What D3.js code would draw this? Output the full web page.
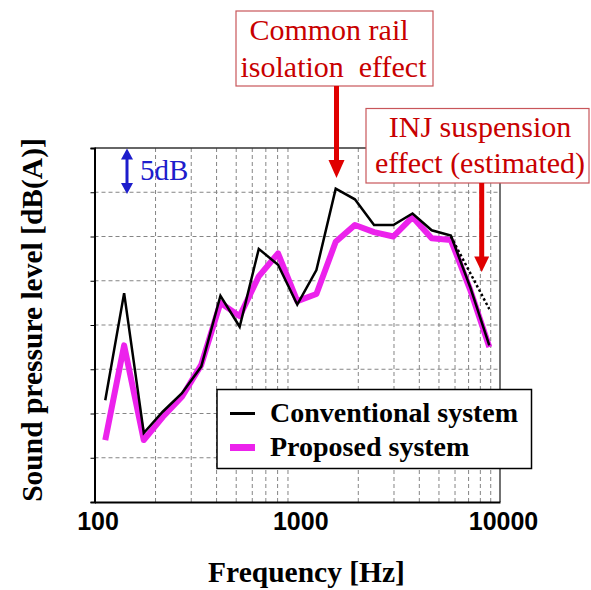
<!DOCTYPE html>
<html>
<head>
<meta charset="utf-8">
<script src="https://cdn.jsdelivr.net/npm/d3@7"></script>
<style>
  html, body { margin: 0; padding: 0; background: #fff; }
  svg { display: block; }
  text { white-space: pre; }
</style>
</head>
<body>
<svg id="chart" width="591" height="590"></svg>
<script>
// ---- Data ----
const frequencies = [113, 140, 175, 217, 270, 336, 418, 520, 646, 804, 1000, 1243, 1548, 1924, 2392, 2978, 3702, 4603, 5724, 7123, 8857];
const conventional = [11.5, 23.6, 7.8, 10.2, 12.3, 15.3, 23.3, 19.8, 28.6, 26.8, 22.3, 26.2, 35.4, 34.2, 31.3, 31.3, 32.6, 30.7, 30.1, 24.3, 17.7];
const proposed     = [7.0, 17.7, 7.0, 9.6, 11.9, 15.5, 22.5, 21.0, 25.5, 28.1, 22.7, 23.5, 29.4, 31.3, 30.5, 30.0, 32.2, 29.8, 29.6, 24.0, 17.5];
const estimatedFreq = [5724, 8857];
const estimatedLevel = [30.0, 21.8];
const xTickLabels = [100, 1000, 10000];
const xGridValues = [200, 300, 400, 500, 600, 700, 800, 900, 2000, 3000, 4000, 5000, 6000, 7000, 8000, 9000];
const yGridValues = [5, 10, 15, 20, 25, 30, 35];
const seriesNames = ["Conventional system", "Proposed system"];
const annotation1 = ["Common rail", "isolation  effect"];
const annotation2 = ["INJ suspension", "effect (estimated)"];
const scaleLabel = "5dB";
const xTitle = "Frequency [Hz]";
const yTitle = "Sound pressure level [dB(A)]";

// ---- Layout ----
const L = 94.5, R = 500, T = 148, B = 502;
const svg = d3.select("#chart");
const x = d3.scaleLog().domain([100, 10000]).range([L, R]);
const y = d3.scaleLinear().domain([0, 40]).range([B, T]);

const serif = "'Liberation Serif', 'Times New Roman', serif";
const sans = "'Liberation Sans', Arial, sans-serif";
const magenta = "#ec22ec";

// grid
const grid = svg.append("g");
grid.selectAll("line.v").data(xGridValues).join("line")
  .attr("x1", d => x(d)).attr("x2", d => x(d))
  .attr("y1", T).attr("y2", B)
  .attr("stroke", "#858585").attr("stroke-width", 1).attr("stroke-dasharray", "4,3");
grid.selectAll("line.h").data(yGridValues).join("line")
  .attr("x1", L).attr("x2", R)
  .attr("y1", d => y(d)).attr("y2", d => y(d))
  .attr("stroke", "#858585").attr("stroke-width", 1).attr("stroke-dasharray", "4,3");

// frame top & right
svg.append("line").attr("x1", L).attr("x2", R).attr("y1", T).attr("y2", T)
  .attr("stroke", "#333").attr("stroke-width", 1.5);
svg.append("line").attr("x1", R).attr("x2", R).attr("y1", T).attr("y2", B)
  .attr("stroke", "#444").attr("stroke-width", 1.5);

// left axis with small ticks
const yAxis = d3.axisLeft(y).tickValues(d3.range(0, 45, 5)).tickSize(4).tickFormat("");
const gy = svg.append("g").attr("transform", `translate(${L},0)`).call(yAxis);
gy.select(".domain").attr("stroke", "#000").attr("stroke-width", 2);
gy.selectAll(".tick line").attr("stroke", "#000").attr("stroke-width", 1);

// bottom axis
const xAxis = d3.axisBottom(x).tickValues(xTickLabels).tickSize(0).tickPadding(10).tickFormat(d3.format("d"));
const gx = svg.append("g").attr("transform", `translate(0,${B})`).call(xAxis);
gx.select(".domain").attr("stroke", "#000").attr("stroke-width", 2);
gx.selectAll(".tick text")
  .attr("font-family", sans).attr("font-weight", "bold").attr("font-size", 25)
  .attr("fill", "#000").attr("dx", 3).attr("dy", "0.71em").attr("y", 10);

// lines
const line = d3.line().x(d => x(d[0])).y(d => y(d[1]));
svg.append("path").datum(frequencies.map((f, i) => [f, proposed[i]]))
  .attr("d", line).attr("fill", "none").attr("stroke", magenta)
  .attr("stroke-width", 6).attr("stroke-linejoin", "round");
svg.append("path").datum(estimatedFreq.map((f, i) => [f, estimatedLevel[i]]))
  .attr("d", line).attr("fill", "none").attr("stroke", "#000")
  .attr("stroke-width", 2.5).attr("stroke-dasharray", "2.5,2.5");
svg.append("path").datum(frequencies.map((f, i) => [f, conventional[i]]))
  .attr("d", line).attr("fill", "none").attr("stroke", "#000")
  .attr("stroke-width", 2.5).attr("stroke-linejoin", "miter");

// 5dB scale indicator
const blue = "#1d1dcc";
const bx = 127, by0 = 148.5, by1 = 194;
svg.append("line").attr("x1", bx).attr("x2", bx).attr("y1", by0 + 6).attr("y2", by1 - 6)
  .attr("stroke", blue).attr("stroke-width", 3);
svg.append("path").attr("d", `M${bx},${by0} L${bx - 6},${by0 + 11} L${bx + 6},${by0 + 11} Z`).attr("fill", blue);
svg.append("path").attr("d", `M${bx},${by1} L${bx - 6},${by1 - 11} L${bx + 6},${by1 - 11} Z`).attr("fill", blue);
svg.append("text").attr("x", 140).attr("y", 180).text(scaleLabel)
  .attr("font-family", serif).attr("font-size", 29).attr("fill", blue);

// legend
const lg = svg.append("g");
lg.append("rect").attr("x", 217).attr("y", 389.5).attr("width", 314.5).attr("height", 79)
  .attr("fill", "#fff").attr("stroke", "#000").attr("stroke-width", 1.5);
lg.append("line").attr("x1", 230).attr("x2", 255).attr("y1", 413.5).attr("y2", 413.5)
  .attr("stroke", "#000").attr("stroke-width", 3);
lg.append("line").attr("x1", 230).attr("x2", 255).attr("y1", 447.5).attr("y2", 447.5)
  .attr("stroke", magenta).attr("stroke-width", 7);
lg.selectAll("text").data(seriesNames).join("text")
  .attr("x", 270).attr("y", (d, i) => 422 + i * 33.5)
  .attr("font-family", serif).attr("font-weight", "bold").attr("font-size", 28)
  .attr("fill", "#000").text(d => d);

// annotations
const red = "#c80000", boxStroke = "#c8565a", arrowRed = "#e00000";
function annot(bxL, byT, bw, bh, lines, centers, baselines) {
  svg.append("rect").attr("x", bxL).attr("y", byT).attr("width", bw).attr("height", bh)
    .attr("fill", "#fff").attr("stroke", boxStroke).attr("stroke-width", 1.2);
  lines.forEach((t, i) => {
    svg.append("text").attr("x", centers[i]).attr("y", baselines[i]).attr("text-anchor", "middle")
      .attr("font-family", serif).attr("font-size", 30).attr("fill", red).text(t);
  });
}
function arrow(ax, y0, yHeadTop, yTip, hw) {
  svg.append("line").attr("x1", ax).attr("x2", ax).attr("y1", y0).attr("y2", yHeadTop + 1)
    .attr("stroke", arrowRed).attr("stroke-width", 5);
  svg.append("path").attr("d", `M${ax - hw},${yHeadTop} L${ax + hw},${yHeadTop} L${ax},${yTip} Z`).attr("fill", arrowRed);
}
annot(236, 11, 197, 75, annotation1, [329, 333.5], [40, 77]);
arrow(336.5, 86, 160, 178, 8);
annot(366, 108.5, 223, 74.5, annotation2, [480, 480], [137, 173]);
arrow(481.7, 183, 256.5, 272, 7.5);

// axis titles
svg.append("text").attr("x", 306.5).attr("y", 582).attr("text-anchor", "middle")
  .attr("font-family", serif).attr("font-weight", "bold").attr("font-size", 29.5)
  .attr("fill", "#000").text(xTitle);
svg.append("text").attr("transform", "translate(42,320) rotate(-90)").attr("text-anchor", "middle")
  .attr("font-family", serif).attr("font-weight", "bold").attr("font-size", 29.5)
  .attr("fill", "#000").text(yTitle);
</script>
</body>
</html>
